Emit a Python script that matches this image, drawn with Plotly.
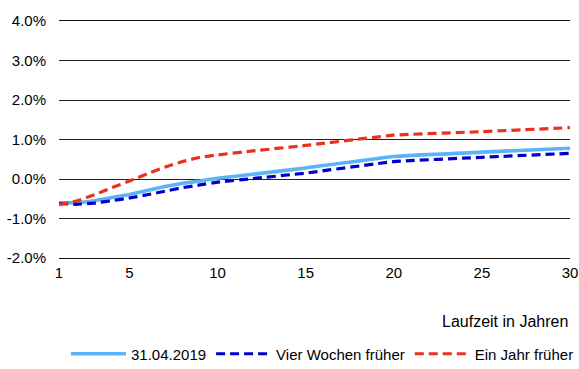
import plotly.graph_objects as go

maturities = [1, 2, 3, 4, 5, 6, 7, 8, 9, 10, 12, 15, 20, 25, 30]
current = [-0.60, -0.60, -0.55, -0.47, -0.39, -0.29, -0.19, -0.11, -0.05, 0.02, 0.12, 0.28, 0.57, 0.68, 0.78]
four_weeks = [-0.62, -0.64, -0.61, -0.55, -0.48, -0.40, -0.31, -0.22, -0.15, -0.08, 0.01, 0.15, 0.44, 0.55, 0.65]
one_year = [-0.65, -0.56, -0.40, -0.22, -0.05, 0.13, 0.30, 0.44, 0.55, 0.61, 0.71, 0.85, 1.11, 1.20, 1.30]

y_ticks = [-2, -1, 0, 1, 2, 3, 4]
x_ticks = [1, 5, 10, 15, 20, 25, 30]

font = "Liberation Sans, Arial, sans-serif"

W, H = 579, 369

fig = go.Figure()
fig.add_trace(go.Scatter(x=maturities, y=current, mode="lines", name="31.04.2019",
                         line=dict(color="#5AB4F7", width=3.6, shape="spline", smoothing=0.3)))
fig.add_trace(go.Scatter(x=maturities, y=four_weeks, mode="lines", name="Vier Wochen früher",
                         line=dict(color="#0000CC", width=3.2, dash="9px,5px", shape="spline", smoothing=0.3)))
fig.add_trace(go.Scatter(x=maturities, y=one_year, mode="lines", name="Ein Jahr früher",
                         line=dict(color="#E8321E", width=3.2, dash="9px,5px", shape="spline", smoothing=0.3)))

fig.update_layout(
    width=W, height=H,
    margin=dict(l=59, r=9, t=21, b=111, autoexpand=False),
    paper_bgcolor="white", plot_bgcolor="white",
    font=dict(family=font, size=15, color="#000"),
    showlegend=True,
    legend=dict(orientation="h", x=1.0, xanchor="right", xref="container",
                y=(H - 354) / H, yanchor="middle", yref="container",
                font=dict(size=15), tracegroupgap=0, itemwidth=55),
    xaxis=dict(range=[1, 30], tickvals=x_ticks, ticktext=[str(v) for v in x_ticks],
               showgrid=False, zeroline=False, showline=True, mirror=True,
               linecolor="#111", linewidth=1, ticks="", automargin=False,
               tickfont=dict(size=15), ticklabelstandoff=1),
    yaxis=dict(range=[-2, 4], tickvals=y_ticks, ticktext=[f"{v:.1f}%" for v in y_ticks],
               showgrid=True, gridcolor="#222", gridwidth=1, zeroline=False, showline=False,
               ticks="", automargin=False, tickfont=dict(size=15), ticklabelstandoff=12),
    annotations=[dict(text="Laufzeit in Jahren", x=1.0, xref="paper", xanchor="right",
                      y=-0.27, yref="paper", yanchor="middle", showarrow=False,
                      font=dict(size=16))],
)
fig.write_html("out.html", config={"displayModeBar": False},
               post_script="document.body.style.margin='0';document.body.style.overflow='hidden';")
